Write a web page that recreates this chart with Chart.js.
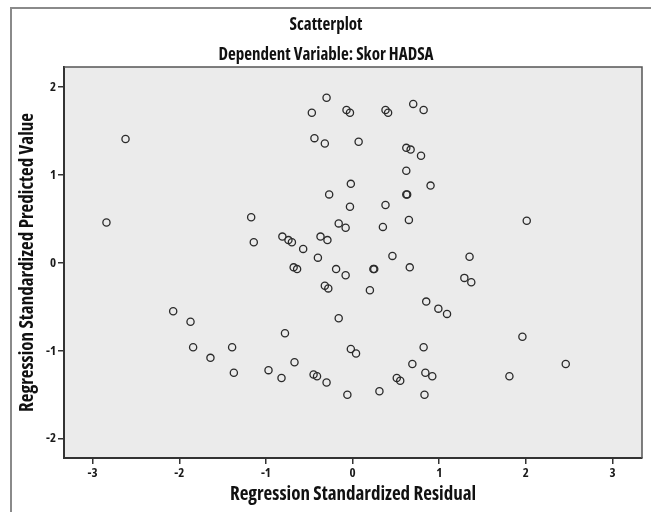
<!DOCTYPE html>
<html>
<head>
<meta charset="utf-8">
<script src="https://cdn.jsdelivr.net/npm/chart.js@4/dist/chart.umd.min.js"></script>
<style>
  html, body { margin: 0; padding: 0; background: #fff; overflow: hidden; }
  #frame { position: absolute; left: 10px; top: 7px; width: 700px; height: 600px;
           border-left: 2px solid #8a8a8a; border-top: 2px solid #8a8a8a; }
  #c { position: absolute; left: 0; top: 0; }
</style>
</head>
<body>
<div id="frame"></div>
<canvas id="c" width="651" height="512"></canvas>
<script>
const titleText = "Scatterplot";
const subtitleText = "Dependent Variable: Skor HADSA";
const xAxisTitle = "Regression Standardized Residual";
const yAxisTitle = "Regression Standardized Predicted Value";

const residuals = [
  -2.62, -2.84, -0.30, -0.47, -0.07, -0.03, -0.44, -0.32, 0.07, -0.02,
  -0.27, -0.03, -1.17, -0.16, -0.08, -1.14, -0.81, -0.74, -0.70, -0.37,
  -0.29, -0.57, -0.40, 0.38, 0.41, 0.70, 0.82, 0.62, 0.67, 0.79,
  0.62, 0.90, 0.62, 0.63, 0.38, 0.35, 0.65, 2.01, 0.46, 1.35,
  -0.68, -0.64, -0.19, -0.08, -0.32, -0.28, -2.07, -1.87, -1.84, -1.64,
  -1.39, -1.37, -0.78, -0.16, -0.97, -0.82, -0.67, -0.45, -0.41, -0.30,
  -0.06, -0.02, 0.04, 0.24, 0.25, 0.66, 0.20, 1.29, 1.37, 0.85,
  0.99, 1.09, 1.96, 0.82, 0.69, 2.46, 0.51, 0.55, 0.84, 0.92,
  1.81, 0.31, 0.83
];
const predicted = [
  1.41, 0.46, 1.88, 1.71, 1.74, 1.71, 1.42, 1.36, 1.38, 0.90,
  0.78, 0.64, 0.52, 0.45, 0.40, 0.235, 0.30, 0.26, 0.235, 0.30,
  0.26, 0.16, 0.06, 1.74, 1.71, 1.81, 1.74, 1.31, 1.29, 1.22,
  1.05, 0.88, 0.78, 0.78, 0.66, 0.41, 0.49, 0.48, 0.08, 0.07,
  -0.05, -0.07, -0.07, -0.14, -0.26, -0.29, -0.55, -0.67, -0.96, -1.08,
  -0.96, -1.25, -0.80, -0.63, -1.22, -1.31, -1.13, -1.27, -1.29, -1.36,
  -1.50, -0.98, -1.03, -0.07, -0.07, -0.05, -0.31, -0.17, -0.22, -0.44,
  -0.52, -0.58, -0.84, -0.96, -1.15, -1.15, -1.31, -1.34, -1.25, -1.29,
  -1.29, -1.46, -1.50
];
const xTicks = [-3, -2, -1, 0, 1, 2, 3];
const yTicks = [-2, -1, 0, 1, 2];

const FONT = "'Open Sans', 'DejaVu Sans Condensed', sans-serif";

const points = residuals.map((x, i) => ({ x: x, y: predicted[i] }));

const plotBg = {
  id: 'plotBg',
  beforeDraw(chart) {
    const { ctx, chartArea: a } = chart;
    ctx.save();
    ctx.fillStyle = '#ebebeb';
    ctx.fillRect(a.left, a.top, a.right - a.left, a.bottom - a.top);
    ctx.restore();
  },
  afterDraw(chart) {
    const { ctx, chartArea: a } = chart;
    ctx.save();
    ctx.strokeStyle = '#555';
    ctx.lineWidth = 1.5;
    ctx.beginPath();
    ctx.moveTo(a.left, a.top);
    ctx.lineTo(a.right, a.top);
    ctx.lineTo(a.right, a.bottom);
    ctx.stroke();
    ctx.restore();
  }
};

function keepTicks(list) {
  return function (scale) {
    scale.ticks = list.map(v => ({ value: v }));
  };
}

new Chart(document.getElementById('c'), {
  type: 'scatter',
  data: {
    datasets: [{
      data: points,
      pointRadius: 3.6,
      pointHoverRadius: 3.6,
      pointBorderWidth: 1.3,
      borderColor: '#2a2a2a',
      backgroundColor: 'rgba(0,0,0,0)',
      pointBackgroundColor: 'rgba(0,0,0,0)'
    }]
  },
  options: {
    responsive: false,
    devicePixelRatio: 1,
    animation: false,
    events: [],
    layout: { padding: { left: 10, right: 9, top: 0, bottom: 5 } },
    plugins: {
      legend: { display: false },
      tooltip: { enabled: false },
      title: {
        display: true, text: titleText, color: '#111',
        font: { family: FONT, size: 17, weight: 'bold condensed', lineHeight: 1.2 },
        padding: { top: 14.8, bottom: 9.6 }
      },
      subtitle: {
        display: true, text: subtitleText, color: '#111',
        font: { family: FONT, size: 17, weight: 'bold condensed', lineHeight: 1.2 },
        padding: { top: 0, bottom: 1.8 }
      }
    },
    scales: {
      x: {
        type: 'linear', min: -3.33, max: 3.34,
        afterBuildTicks: keepTicks(xTicks),
        afterFit(s) { s.height = 49; },
        ticks: { color: '#1a1a1a', font: { family: FONT, size: 13, weight: 'bold condensed' }, padding: 1, maxRotation: 0 },
        grid: { display: true, drawOnChartArea: false, drawTicks: true, tickLength: 6, color: '#333', lineWidth: 1.5 },
        border: { display: true, color: '#333', width: 2 },
        title: {
          display: true, text: xAxisTitle, color: '#111',
          font: { family: FONT, size: 19, weight: 'bold condensed', lineHeight: 1.2 },
          padding: { top: 0, bottom: 0.6 }
        }
      },
      y: {
        type: 'linear', min: -2.22, max: 2.23,
        afterBuildTicks: keepTicks(yTicks),
        afterFit(s) { s.width = 54; },
        ticks: { color: '#1a1a1a', font: { family: FONT, size: 13, weight: 'bold condensed' }, padding: 2 },
        grid: { display: true, drawOnChartArea: false, drawTicks: true, tickLength: 6, color: '#333', lineWidth: 1.5 },
        border: { display: true, color: '#333', width: 2 },
        title: {
          display: true, text: yAxisTitle, color: '#111',
          font: { family: FONT, size: 19, weight: 'bold condensed', lineHeight: 1.2 },
          padding: { top: 6.6, bottom: 0 }
        }
      }
    }
  },
  plugins: [plotBg]
});
</script>
</body>
</html>
